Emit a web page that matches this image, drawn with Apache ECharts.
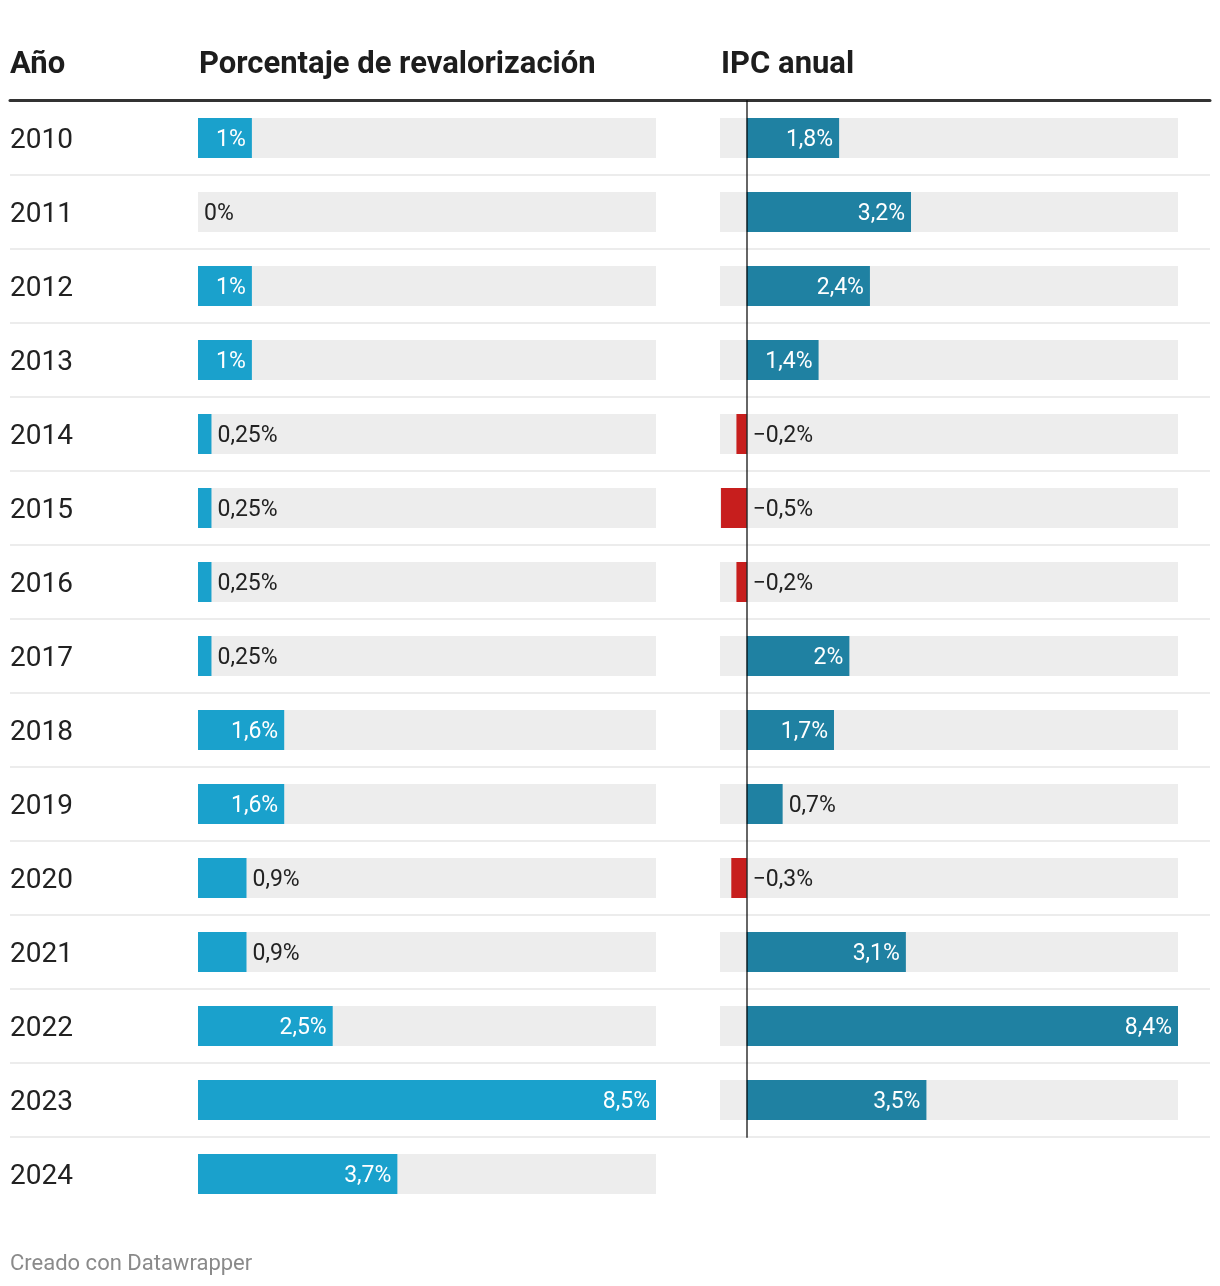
<!DOCTYPE html>
<html>
<head>
<meta charset="utf-8">
<script src="https://cdn.jsdelivr.net/npm/echarts@6/dist/echarts.min.js"></script>
<style>
html,body{margin:0;padding:0;background:#fff;}
#chart{width:1220px;height:1286px;}
</style>
</head>
<body>
<div id="chart"></div>
<script>
// ---- data ----
const years = ['2010','2011','2012','2013','2014','2015','2016','2017','2018','2019','2020','2021','2022','2023','2024'];
const revalorizacion = [1, 0, 1, 1, 0.25, 0.25, 0.25, 0.25, 1.6, 1.6, 0.9, 0.9, 2.5, 8.5, 3.7];
const ipcYears = ['2010','2011','2012','2013','2014','2015','2016','2017','2018','2019','2020','2021','2022','2023'];
const ipcAnual = [1.8, 3.2, 2.4, 1.4, -0.2, -0.5, -0.2, 2, 1.7, 0.7, -0.3, 3.1, 8.4, 3.5];
const headers = ['Año', 'Porcentaje de revalorización', 'IPC anual'];
const footer = 'Creado con Datawrapper';

// ---- styles ----
const FONT = 'Roboto';
const ROW = 74, TOP = 101;
const fmt = v => (v < 0 ? '\u2212' : '') + String(Math.abs(v)).replace('.', ',') + '%';
const LBL = 23;
const insideLbl = {show: true, position: 'insideRight', distance: 6, offset: [0, 2], color: '#fff', fontSize: LBL, fontFamily: FONT, formatter: p => fmt(p.value)};
const outsideLbl = {show: true, position: 'right', distance: 6, offset: [0, 2], color: '#222', fontSize: LBL, fontFamily: FONT, formatter: p => fmt(p.value)};

function items(arr, color, negColor) {
  return arr.map(v => ({
    value: v,
    itemStyle: {color: v < 0 ? negColor : color},
    label: v >= 1 ? insideLbl : outsideLbl
  }));
}

const chart = echarts.init(document.getElementById('chart'), null, {renderer: 'canvas'});

const option = {
  animation: false,
  backgroundColor: '#fff',
  textStyle: {fontFamily: FONT},
  grid: [
    {left: 10, width: 1200, top: TOP, height: ROW * ipcYears.length},
    {left: 198, width: 458, top: TOP, height: ROW * years.length},
    {left: 720, width: 458, top: TOP, height: ROW * ipcYears.length},
    {left: 198, width: 458, top: TOP + 3, height: ROW * years.length}
  ],
  xAxis: [
    {gridIndex: 0, type: 'value', position: 'top', min: 0, max: 1, offset: 1, z: 4,
     axisLine: {show: true, lineStyle: {color: '#333', width: 3}},
     axisTick: {show: false}, axisLabel: {show: false}, splitLine: {show: false}},
    {gridIndex: 1, type: 'value', min: 0, max: 8.5, show: false},
    {gridIndex: 2, type: 'value', min: -0.52, max: 8.4, show: false},
    {gridIndex: 3, type: 'value', min: 0, max: 1, show: false}
  ],
  yAxis: [
    // row separators across the full width
    {gridIndex: 0, type: 'category', data: ipcYears, inverse: true,
     axisLine: {show: false}, axisTick: {show: false}, axisLabel: {show: false},
     splitLine: {show: true, lineStyle: {color: '#ececec', width: 2}}},
    {gridIndex: 1, type: 'category', data: years, inverse: true, show: false},
    {gridIndex: 2, type: 'category', data: ipcYears, inverse: true, z: 5,
     axisLine: {show: true, onZero: true, lineStyle: {color: 'rgba(0,0,0,0.6)', width: 2}},
     axisTick: {show: false}, axisLabel: {show: false}, splitLine: {show: false}},
    // year labels
    {gridIndex: 3, type: 'category', data: years, inverse: true,
     axisLine: {show: false}, axisTick: {show: false},
     axisLabel: {align: 'left', margin: 188, fontSize: 28, color: '#222', fontFamily: FONT},
     splitLine: {show: false}}
  ],
  series: [
    {type: 'bar', name: 'Porcentaje de revalorización', xAxisIndex: 1, yAxisIndex: 1,
     barWidth: 40, showBackground: true, backgroundStyle: {color: '#ededed'},
     data: items(revalorizacion, '#1aa1cc', '#c71e1d')},
    {type: 'bar', name: 'IPC anual', xAxisIndex: 2, yAxisIndex: 2,
     barWidth: 40, showBackground: true, backgroundStyle: {color: '#ededed'},
     data: items(ipcAnual, '#1f81a2', '#c71e1d')}
  ],
  graphic: [
    {type: 'text', x: 10, y: 65, style: {text: headers[0], fontSize: 31, fontWeight: 'bold', fontFamily: FONT, fill: '#1d1d1d', verticalAlign: 'middle'}},
    {type: 'text', x: 199, y: 65, style: {text: headers[1], fontSize: 31, fontWeight: 'bold', fontFamily: FONT, fill: '#1d1d1d', verticalAlign: 'middle'}},
    {type: 'text', x: 721, y: 65, style: {text: headers[2], fontSize: 31, fontWeight: 'bold', fontFamily: FONT, fill: '#1d1d1d', verticalAlign: 'middle'}},
    {type: 'text', x: 10, y: 1264, style: {text: footer, fontSize: 22, fontFamily: FONT, fill: '#8a8a8a', verticalAlign: 'middle'}}
  ]
};
chart.setOption(option);
</script>
</body>
</html>
